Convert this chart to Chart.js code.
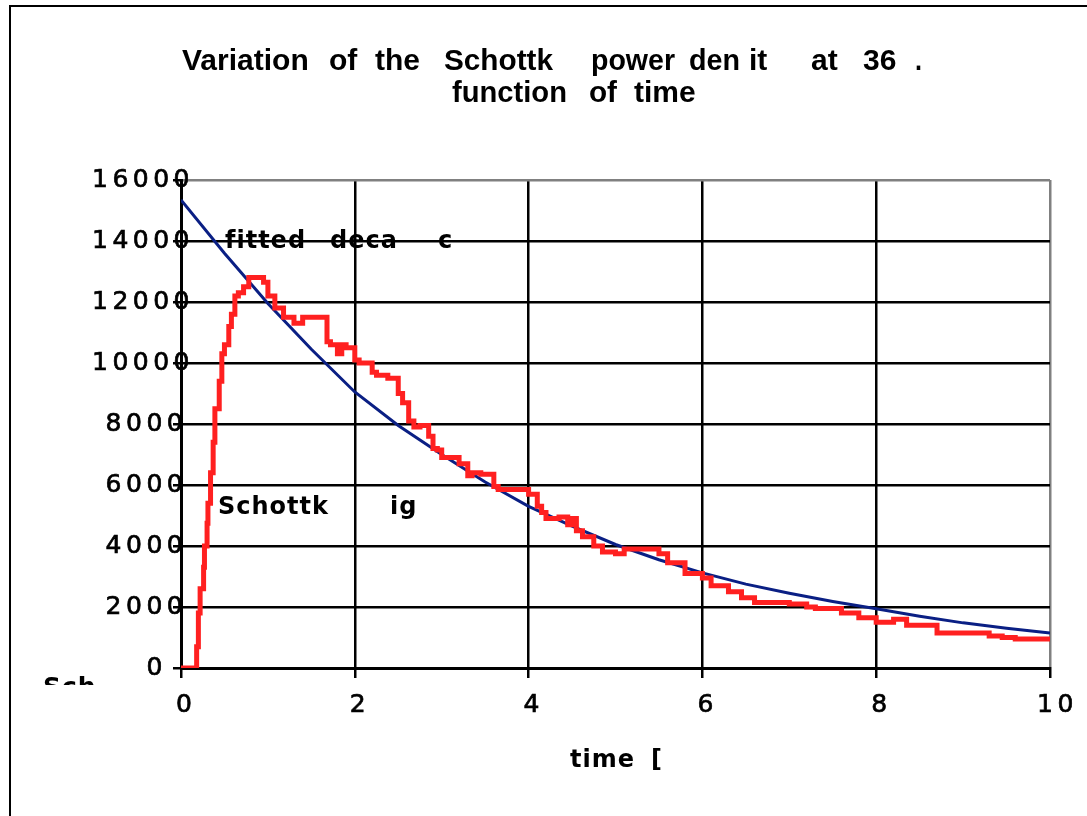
<!DOCTYPE html>
<html>
<head>
<meta charset="utf-8">
<script src="https://cdn.jsdelivr.net/npm/chart.js@4.4.0/dist/chart.umd.min.js"></script>
<style>
  html, body { margin: 0; padding: 0; background: #fff; }
  #wrap { width: 1087px; height: 816px; }
</style>
</head>
<body>
<div id="wrap"><canvas id="chart" width="1087" height="816"></canvas></div>
<script>
// Fitted decay curve
const fitTime = [0, 0.5, 1, 1.5, 2, 2.5, 3, 3.5, 4, 4.5, 5, 5.5, 6, 6.5, 7, 7.5, 8, 8.5, 9, 9.5, 10];
const fitValues = [15350, 13600, 11950, 10450, 9050, 7950, 7000, 6100, 5300, 4650, 4050, 3550, 3120, 2750, 2450, 2180, 1940, 1700, 1480, 1300, 1150];

// Schottky signal
const sigTime = [0, 0.18, 0.2, 0.22, 0.26, 0.27, 0.3, 0.31, 0.34, 0.37, 0.39, 0.44, 0.47, 0.5, 0.55, 0.58, 0.62, 0.66, 0.72, 0.78, 0.82, 0.95,
  1.0, 1.08, 1.18, 1.3, 1.4, 1.45, 1.68, 1.72, 1.8, 1.85, 1.9, 2.0, 2.05, 2.2, 2.25, 2.38, 2.5, 2.55, 2.62, 2.68, 2.75, 2.85, 2.9, 2.95,
  3.0, 3.2, 3.3, 3.35, 3.45, 3.6, 3.65, 3.8, 4.0, 4.1, 4.15, 4.2, 4.35, 4.45, 4.5, 4.55, 4.62, 4.75, 4.85, 5.0, 5.1, 5.2, 5.5, 5.6, 5.8,
  6.0, 6.1, 6.3, 6.45, 6.6, 6.65, 7.0, 7.2, 7.3, 7.6, 7.8, 8.0, 8.2, 8.35, 8.45, 8.7, 8.75, 9.0, 9.3, 9.45, 9.6, 10.0];
const sigValues = [0, 0, 700, 1800, 2600, 3300, 4000, 4750, 5400, 6400, 7400, 8500, 9400, 10300, 10600, 11200, 11600, 12200, 12300, 12500, 12800, 12800,
  12650, 12200, 11800, 11500, 11300, 11500, 11500, 10700, 10600, 10300, 10600, 10500, 10100, 10000, 9700, 9600, 9500, 9000, 8700, 8100, 7900, 7950, 7600, 7200,
  7150, 6900, 6700, 6300, 6400, 6350, 5950, 5850, 5850, 5700, 5300, 5100, 4900, 4950, 4700, 4900, 4500, 4300, 4000, 3800, 3750, 3900, 3900, 3750, 3450,
  3100, 2950, 2700, 2500, 2300, 2150, 2150, 2100, 2000, 1950, 1800, 1650, 1500, 1600, 1400, 1400, 1150, 1150, 1150, 1050, 1000, 950];

const xTicks = [0, 2, 4, 6, 8, 10];
const yTicks = [0, 2000, 4000, 6000, 8000, 10000, 12000, 14000, 16000];

const titleWords1 = ["Variation", "of", "the", "Schottk", "power", "den", "it", "at", "36", "."];
const titleWords2 = ["function", "of", "time"];
const xTitle = ["time", "["];
const fitLabel = ["fitted", "deca", "c"];
const sigLabel = ["Schottk", "ig"];

function toPoints(xs, ys) {
  return xs.map((x, i) => ({ x: x, y: ys[i] }));
}

// word start / end positions of the title lines, as seen in the picture
const title1Pos = [[182, 309], [329, 359], [375, 426], [444, 553], [591, 675], [689, 740], [749, 772], [811, 849], [863, 901], [915, 922]];
const title2Pos = [[452, 567], [589, 617], [634, 702]];

// Draws frame, titles, tick labels and notes
const decor = {
  id: "decor",
  beforeDraw(chart) {
    const ctx = chart.ctx;
    ctx.save();
    ctx.fillStyle = "#fff";
    ctx.fillRect(0, 0, chart.width, chart.height);
    ctx.restore();
  },
  afterDraw(chart) {
    const ctx = chart.ctx;
    const xs = chart.scales.x;
    const ys = chart.scales.y;
    ctx.save();
    ctx.fillStyle = "#000";

    // outer frame
    ctx.strokeStyle = "#000";
    ctx.lineWidth = 2;
    ctx.strokeRect(10, 6, 1200, 900);

    // title
    ctx.font = "bold 30px 'Liberation Sans', Arial, sans-serif";
    ctx.textAlign = "left";
    ctx.textBaseline = "alphabetic";
    titleWords1.forEach((w, i) => {
      const p = title1Pos[i];
      ctx.fillText(w, p[0], 70, p[1] - p[0]);
    });
    titleWords2.forEach((w, i) => {
      const p = title2Pos[i];
      ctx.fillText(w, p[0], 102, p[1] - p[0]);
    });

    // y tick labels
    ctx.font = "25px 'DejaVu Sans', sans-serif";
    ctx.letterSpacing = "4.5px";
    ctx.textBaseline = "middle";
    ctx.lineWidth = 0.7;
    yTicks.forEach(v => {
      const s = String(v);
      const x0 = 160 - 13.6 * s.length;
      const y0 = ys.getPixelForValue(v);
      ctx.fillText(s, x0, y0);
      ctx.strokeText(s, x0, y0);
    });

    // x tick labels
    xTicks.forEach(v => {
      const s = String(v);
      const x0 = xs.getPixelForValue(v) - 5 - (s.length - 1) * 8;
      ctx.fillText(s, x0, 705);
      ctx.strokeText(s, x0, 705);
    });

    // notes inside plot
    ctx.font = "bold 24px 'DejaVu Sans', sans-serif";
    ctx.letterSpacing = "1px";
    ctx.textBaseline = "alphabetic";
    ctx.fillText(fitLabel[0], 225, 248);
    ctx.fillText(fitLabel[1], 330, 248);
    ctx.fillText(fitLabel[2], 438, 248);
    ctx.fillText(sigLabel[0], 218, 514);
    ctx.fillText(sigLabel[1], 390, 514);

    // x axis title
    ctx.fillText(xTitle[0], 570, 767);
    ctx.fillText(xTitle[1], 651, 767);

    // clipped y axis title
    ctx.beginPath();
    ctx.rect(0, 670, 180, 15);
    ctx.clip();
    ctx.font = "bold 25px 'DejaVu Sans', sans-serif";
    ctx.textBaseline = "top";
    ctx.fillText("Sch", 43, 676);
    ctx.restore();
  }
};

new Chart(document.getElementById("chart"), {
  type: "line",
  data: {
    datasets: [
      {
        label: "Schottky signal",
        data: toPoints(sigTime, sigValues),
        borderColor: "#ff2020",
        borderWidth: 5,
        pointRadius: 0,
        stepped: "after",
        order: 0
      },
      {
        label: "fitted decay",
        data: toPoints(fitTime, fitValues),
        borderColor: "#0a1f84",
        borderWidth: 3,
        pointRadius: 0,
        tension: 0,
        order: 1
      }
    ]
  },
  options: {
    responsive: false,
    animation: false,
    devicePixelRatio: 1,
    layout: { padding: { top: 180, right: 37, bottom: 0, left: 0 } },
    plugins: {
      legend: { display: false },
      title: { display: false },
      tooltip: { enabled: false }
    },
    scales: {
      x: {
        type: "linear",
        min: 0,
        max: 10,
        afterBuildTicks: s => { s.ticks = xTicks.map(v => ({ value: v })); },
        afterFit: s => { s.height = 148; },
        ticks: { display: false },
        grid: {
          color: c => (c.tick && c.tick.value === 10 ? "#808080" : "#000"),
          tickColor: "#000",
          lineWidth: 2.5,
          tickLength: 10
        },
        border: { color: "#000", width: 3 }
      },
      y: {
        type: "linear",
        min: 0,
        max: 16000,
        afterBuildTicks: s => { s.ticks = yTicks.map(v => ({ value: v })); },
        afterFit: s => { s.width = 181; },
        ticks: { display: false },
        grid: {
          color: c => (c.tick && c.tick.value === 16000 ? "#808080" : "#000"),
          tickColor: "#000",
          lineWidth: 2.5,
          tickLength: 8
        },
        border: { color: "#000", width: 3 }
      }
    }
  },
  plugins: [decor]
});
</script>
</body>
</html>
